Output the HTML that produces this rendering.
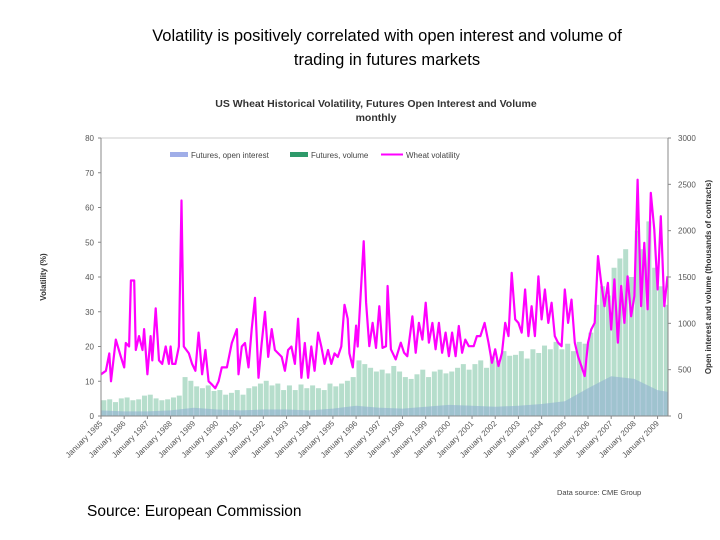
<!DOCTYPE html>
<html><head><meta charset="utf-8">
<style>
body{margin:0;background:#fff;width:720px;height:540px;overflow:hidden;font-family:"Liberation Sans",sans-serif;}
#t{position:absolute;left:0;top:24px;width:774px;text-align:center;font-size:16.5px;line-height:24px;color:#000;}
#src{position:absolute;left:87px;top:503px;font-size:15.5px;color:#000;}
svg{position:absolute;left:0;top:0;}
</style></head><body>
<div id="t">Volatility is positively correlated with open interest and volume of<br>trading in futures markets</div>
<div id="src">Source: European Commission</div>
<svg id="c" width="720" height="540"></svg>
<script>
const volDates=[1985.00,1985.21,1985.36,1985.43,1985.64,1985.86,1986.00,1986.07,1986.21,1986.29,1986.43,1986.50,1986.64,1986.79,1986.86,1987.00,1987.14,1987.21,1987.36,1987.50,1987.64,1987.79,1987.93,1988.00,1988.07,1988.21,1988.36,1988.47,1988.57,1988.79,1988.93,1989.07,1989.21,1989.36,1989.50,1989.64,1989.79,1989.93,1990.07,1990.21,1990.43,1990.64,1990.86,1990.93,1991.07,1991.21,1991.36,1991.50,1991.64,1991.79,1991.93,1992.07,1992.21,1992.36,1992.50,1992.79,1992.93,1993.07,1993.21,1993.36,1993.50,1993.64,1993.79,1993.93,1994.07,1994.21,1994.36,1994.50,1994.64,1994.79,1994.93,1995.07,1995.21,1995.36,1995.50,1995.64,1995.71,1995.86,1996.00,1996.07,1996.33,1996.43,1996.57,1996.71,1996.86,1997.00,1997.14,1997.29,1997.36,1997.50,1997.71,1997.93,1998.07,1998.21,1998.43,1998.57,1998.71,1998.86,1999.00,1999.14,1999.29,1999.43,1999.57,1999.71,1999.86,2000.00,2000.14,2000.29,2000.43,2000.57,2000.71,2000.86,2001.07,2001.21,2001.36,2001.54,2001.71,2001.86,2002.00,2002.14,2002.29,2002.43,2002.57,2002.71,2002.86,2003.00,2003.14,2003.29,2003.43,2003.57,2003.71,2003.86,2004.00,2004.14,2004.29,2004.43,2004.57,2004.71,2004.86,2005.00,2005.14,2005.29,2005.43,2005.57,2005.86,2006.00,2006.14,2006.29,2006.43,2006.57,2006.71,2006.86,2007.00,2007.14,2007.29,2007.43,2007.57,2007.71,2007.86,2008.00,2008.14,2008.29,2008.43,2008.57,2008.71,2008.86,2009.00,2009.14,2009.29,2009.43];
const volatility=[12,13,18,10,22,17,14,21,20,39,39,19,23,19,25,12,23,16,31,16,15,20,15,20,15,15,20,62,20,18,15,13,24,12,19,10,9,8,10,14,14,21,25,12,20,21,14,25,34,11,21,30,17,25,19,17,13,19,20,15,28,11,21,11,20,13,24,20,15,19,15,18,17,20,32,28,18,14,26,20,50.3,32.6,20.1,26.8,19.6,31.6,19.6,20.1,37.4,19.2,16.3,21.1,18.2,17.2,28.7,18.2,26.8,22,32.6,21.1,26.8,19.2,26.8,18.2,24,17.2,24,17.2,25.9,18.2,22,20.1,20.1,23,23,26.8,21.1,15.3,19.2,14.4,18.2,26.8,23,41.2,27.8,26.8,24,36.4,23,31.6,23,40.2,27.8,36.4,26.8,32.6,23,21.1,20.1,36.4,26.8,33.5,21.1,17.2,11.5,21.1,24.9,26.8,46,38.3,31.6,38.3,24.9,39.3,21.1,37.4,26.8,40.2,28.7,34.5,68,31.6,49.8,30.7,64.2,53.6,36.4,57.5,31.6,40.2];
const volumeQ=[170,180,150,190,200,170,180,220,230,190,170,180,200,220,420,380,320,300,330,270,280,230,250,280,230,300,320,350,380,330,350,280,330,280,340,300,330,300,280,350,320,350,380,420,600,560,520,480,500,460,540,480,420,400,450,500,420,480,500,460,480,520,560,500,560,600,520,640,600,700,650,660,700,620,720,680,760,720,800,720,780,700,800,780,900,1200,1400,1300,1600,1700,1800,1500,2000,1800,2100,1600,1400,1200];
const oiYears=[1985,1986,1987,1988,1989,1990,1991,1992,1993,1994,1995,1996,1997,1998,1999,2000,2001,2002,2003,2004,2005,2006,2007,2008,2009,2009.45];
const openInterest=[60,50,50,60,90,70,60,70,70,60,80,110,90,80,100,120,110,100,110,130,160,300,430,400,280,260];
const leftTicks=[0,10,20,30,40,50,60,70,80];
const rightTicks=[0,500,1000,1500,2000,2500,3000];
const yearLabels=[1985,1986,1987,1988,1989,1990,1991,1992,1993,1994,1995,1996,1997,1998,1999,2000,2001,2002,2003,2004,2005,2006,2007,2008,2009];

const NS="http://www.w3.org/2000/svg",svg=document.getElementById('c');
const X0=101,X1=668,Y0=416,Y1=138,T0=1985,T1=2009.45;
const x=t=>X0+(t-T0)/(T1-T0)*(X1-X0);
const yL=v=>Y0-v/80*(Y0-Y1);
const yR=v=>Y0-v/3000*(Y0-Y1);
function mk(tag,a,txt){const e=document.createElementNS(NS,tag);for(const k in a)e.setAttribute(k,a[k]);if(txt!==undefined)e.textContent=txt;svg.appendChild(e);return e;}

let e=mk('text',{x:376,y:107,'text-anchor':'middle','font-size':10.5,'font-weight':'bold',fill:'#333'},'US Wheat Historical Volatility, Futures Open Interest and Volume');


e=mk('text',{x:376,y:121,'text-anchor':'middle','font-size':10.5,'font-weight':'bold',fill:'#333'},'monthly');


e=mk('rect',{x:X0,y:Y1,width:X1-X0,height:Y0-Y1,fill:'#fff',stroke:'#ccc','stroke-width':1});



// volume bars
volumeQ.forEach((v,i)=>{const t=T0+i*0.25;const w=Math.min(x(t+0.25),X1)-x(t);
 const b=mk('rect',{x:x(t)+0.4,y:yR(v),width:Math.max(w-0.8,0.5),height:Y0-yR(v),fill:'#a9d8c3','fill-opacity':0.85});
 
 
});
// open interest area
let d='M'+x(oiYears[0])+','+Y0;
oiYears.forEach((t,i)=>{d+=' L'+x(t).toFixed(1)+','+yR(openInterest[i]).toFixed(1);});
d+=' L'+x(oiYears[oiYears.length-1])+','+Y0+'Z';
e=mk('path',{d:d,fill:'#8fb0d0','fill-opacity':0.6});


// volatility line
d='';volDates.forEach((t,i)=>{d+=(i?' L':'M')+x(t).toFixed(1)+','+yL(volatility[i]).toFixed(1);});
e=mk('path',{d:d,fill:'none',stroke:'#ff00ff','stroke-width':2.2,'stroke-linejoin':'round'});



// axes
e=mk('line',{x1:X0,y1:Y1,x2:X0,y2:Y0,stroke:'#888'});


e=mk('line',{x1:X1,y1:Y1,x2:X1,y2:Y0,stroke:'#888'});


e=mk('line',{x1:X0,y1:Y0,x2:X1,y2:Y0,stroke:'#888'});


leftTicks.forEach(v=>{
 mk('line',{x1:X0-3,y1:yL(v),x2:X0,y2:yL(v),stroke:'#888'});
 const l=mk('text',{x:X0-7,y:yL(v)+3,'text-anchor':'end','font-size':8,fill:'#555'},v);
 
 
});
rightTicks.forEach(v=>{
 mk('line',{x1:X1,y1:yR(v),x2:X1+3,y2:yR(v),stroke:'#888'});
 const l=mk('text',{x:X1+10,y:yR(v)+3,'font-size':8,fill:'#555'},v);
 
 
});
yearLabels.forEach(yr=>{
 const px=x(yr);
 mk('line',{x1:px,y1:Y0,x2:px,y2:Y0+3,stroke:'#888'});
 const l=mk('text',{x:px+2,y:Y0+8,'text-anchor':'end','font-size':8,fill:'#555',transform:`rotate(-45 ${px+2} ${Y0+8})`},'January '+yr);
 
 
});
e=mk('text',{x:46,y:277,'text-anchor':'middle','font-size':8,'font-weight':'bold',fill:'#333',transform:'rotate(-90 46 277)'},'Volatility (%)');


e=mk('text',{x:711,y:277,'text-anchor':'middle','font-size':8,'font-weight':'bold',fill:'#333',transform:'rotate(-90 711 277)'},'Open interest and volume (thousands of contracts)');


// legend
const leg=[['Futures, open interest','#a0aee8',170,'rect'],['Futures, volume','#2e9a6a',290,'rect'],['Wheat volatility','#ff00ff',381,'line']];
leg.forEach(([n,c,lx,k])=>{
 if(k==='rect')mk('rect',{x:lx,y:152,width:18,height:5,fill:c});
 else mk('line',{x1:lx,y1:154.5,x2:lx+22,y2:154.5,stroke:c,'stroke-width':2});
 const l=mk('text',{x:lx+(k==='rect'?21:25),y:158,'font-size':8,fill:'#444'},n);
 
 
});
e=mk('text',{x:557,y:495,'font-size':7.5,fill:'#444'},'Data source: CME Group');


</script>
</body></html>
